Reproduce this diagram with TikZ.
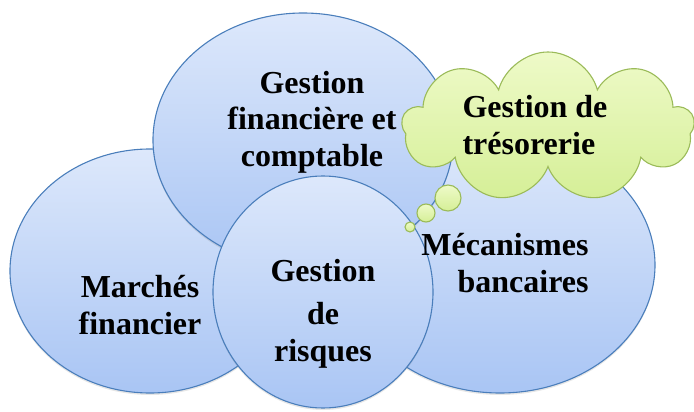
\documentclass[tikz,border=0pt]{standalone}
\usepackage{fontspec}
\setmainfont{Liberation Serif}
\usetikzlibrary{shapes,shadows}

\definecolor{bordbleu}{HTML}{4A7EBB}
\definecolor{hautbleu}{HTML}{DDE8FB}
\definecolor{basbleu}{HTML}{A9C5F4}
\definecolor{bordvert}{HTML}{9BBB59}
\definecolor{hautvert}{HTML}{EEFAC8}
\definecolor{basvert}{HTML}{D5EF97}

\begin{document}
\begin{tikzpicture}[x=1pt,y=-1pt,inner sep=0pt,outer sep=0pt,
                    bulle/.style={ellipse,draw=bordbleu,line width=1.1pt,
                      top color=hautbleu,bottom color=basbleu,
                      drop shadow={opacity=0.2,shadow xshift=0pt,shadow yshift=-2pt}},
                    pensee/.style={draw=bordvert,line width=1.1pt,
                      top color=hautvert,bottom color=basvert},
                    texte/.style={font=\bfseries\fontsize{32}{36.5}\selectfont}]

  \useasboundingbox (0,0) rectangle (694,412);

  % ellipses
  \node[bulle,minimum width=280pt,minimum height=244pt] (marches)  at (150,271) {};
  \node[bulle,minimum width=310pt,minimum height=256pt] (banques)  at (500,265) {};
  \node[bulle,minimum width=300pt,minimum height=254pt] (gestfin)  at (303,140) {};
  \node[bulle,minimum width=220pt,minimum height=232pt] (risques)  at (323,292) {};

  % nuage
  \node[pensee,circle,minimum size=10pt] (b3) at (410,227) {};
  \node[pensee,circle,minimum size=18pt] (b2) at (426,213) {};
  \node[pensee,circle,minimum size=26pt] (b1) at (448,198) {};
  \node[pensee,cloud,cloud puffs=9,aspect=2,
        minimum width=292pt,minimum height=150pt] (tresor) at (548,127) {};

  % textes
  \node[texte,align=center] (t-gestfin) at (312,122) {Gestion\\financière et\\comptable};
  \node[texte,align=center] (t-marches) at (140,305) {Marchés\\financier};
  \node[texte,align=center] (t-risques) at (323,314) {Gestion\\[6.5pt]de\\risques};
  \node[texte,align=right]  (t-banques) at (505,263) {Mécanismes\\bancaires};
  \node[texte,align=left]   (t-tresor)  at (535,125) {Gestion de\\trésorerie};
\end{tikzpicture}
\end{document}
